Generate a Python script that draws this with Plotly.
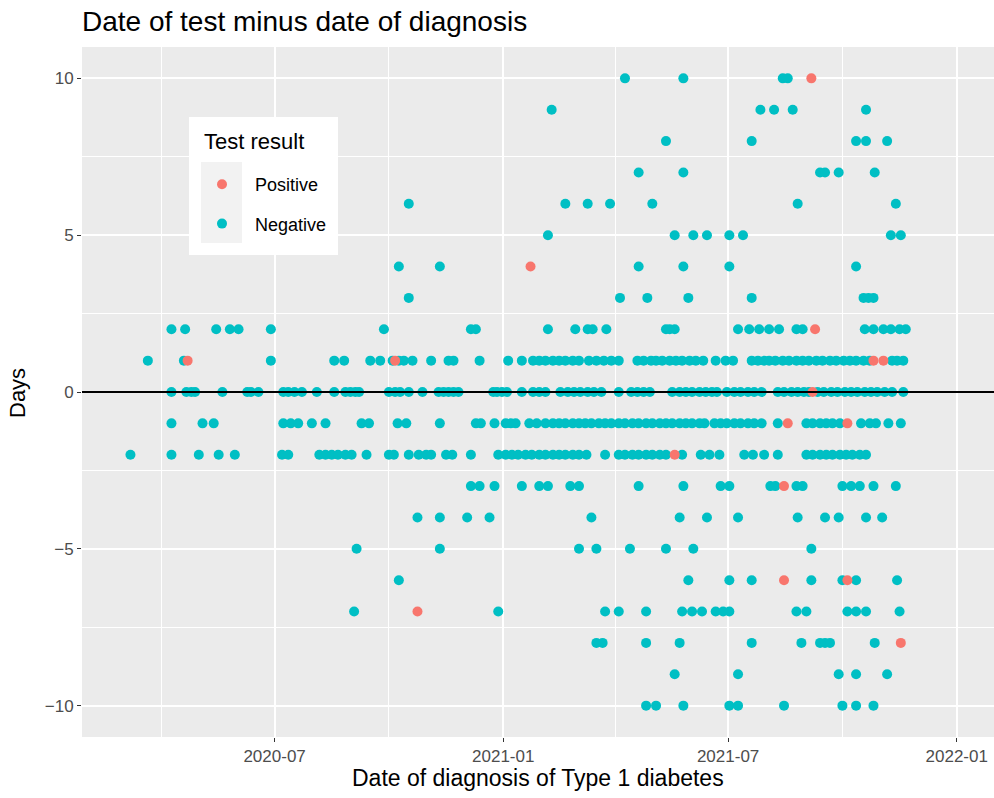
import plotly.graph_objects as go

# ---- data ----
row_days = [10, 9, 8, 7, 6, 5, 4, 3, 2, 1, 0, -1, -2, -3, -4, -5, -6, -7, -8, -9, -10]

neg_dates_by_row = [
    # 10
    ["2021-04-09", "2021-05-26", "2021-08-14", "2021-08-18"],
    # 9
    ["2021-02-09", "2021-07-27", "2021-08-07", "2021-08-22", "2021-10-20"],
    # 8
    ["2021-05-12", "2021-07-20", "2021-10-12", "2021-10-20", "2021-11-06"],
    # 7
    ["2021-04-20", "2021-05-26", "2021-09-13", "2021-09-17", "2021-09-28", "2021-10-27"],
    # 6
    ["2020-10-17", "2021-02-20", "2021-03-10", "2021-03-28", "2021-05-01", "2021-08-26", "2021-11-13"],
    # 5
    ["2021-02-06", "2021-05-19", "2021-06-03", "2021-06-14", "2021-07-02", "2021-07-13", "2021-11-09", "2021-11-17"],
    # 4
    ["2020-10-09", "2020-11-11", "2021-04-20", "2021-05-26", "2021-07-02", "2021-10-12"],
    # 3
    ["2020-10-17", "2021-04-05", "2021-04-27", "2021-05-30", "2021-07-20", "2021-10-18", "2021-10-22", "2021-10-26"],
    # 2
    ["2020-04-09", "2020-04-20", "2020-05-15", "2020-05-26", "2020-06-02", "2020-06-28", "2020-09-27",
     "2020-12-06", "2020-12-10", "2021-02-06", "2021-02-28", "2021-03-10", "2021-03-14", "2021-03-25",
     "2021-05-12", "2021-05-15", "2021-05-19", "2021-07-09", "2021-07-18", "2021-07-26", "2021-08-03",
     "2021-08-11", "2021-08-25", "2021-08-30", "2021-10-19", "2021-10-26", "2021-11-03", "2021-11-09",
     "2021-11-16", "2021-11-21"],
    # 1
    ["2020-03-21", "2020-04-19", "2020-06-28", "2020-08-18", "2020-08-26", "2020-09-16", "2020-09-24",
     "2020-10-04", "2020-10-09", "2020-10-13", "2020-10-20", "2020-11-04", "2020-11-18", "2020-11-22",
     "2020-12-13", "2021-01-05", "2021-01-16", "2021-01-25", "2021-01-30", "2021-02-04", "2021-02-10",
     "2021-02-15", "2021-02-20", "2021-02-26", "2021-03-03", "2021-03-11", "2021-03-17", "2021-03-23",
     "2021-03-29", "2021-04-04", "2021-04-19", "2021-04-24", "2021-04-30", "2021-05-04", "2021-05-09",
     "2021-05-15", "2021-05-20", "2021-05-25", "2021-05-31", "2021-06-05", "2021-06-11", "2021-06-21",
     "2021-06-29", "2021-07-05", "2021-07-20", "2021-07-25", "2021-07-30", "2021-08-03", "2021-08-08",
     "2021-08-14", "2021-08-19", "2021-08-25", "2021-08-30", "2021-09-04", "2021-09-10", "2021-09-15",
     "2021-09-21", "2021-09-26", "2021-10-02", "2021-10-07", "2021-10-12", "2021-10-18", "2021-10-23",
     "2021-11-10", "2021-11-14", "2021-11-19"],
    # 0
    ["2020-04-09", "2020-04-21", "2020-04-25", "2020-04-28", "2020-05-20", "2020-06-09", "2020-06-12",
     "2020-06-18", "2020-07-08", "2020-07-12", "2020-07-17", "2020-07-23", "2020-08-04", "2020-08-18",
     "2020-08-27", "2020-08-31", "2020-09-04", "2020-09-07", "2020-10-01", "2020-10-06", "2020-10-10",
     "2020-10-17", "2020-10-28", "2020-11-10", "2020-11-14", "2020-11-18", "2020-11-22", "2020-11-26",
     "2020-12-24", "2020-12-27", "2020-12-31", "2021-01-04", "2021-01-16", "2021-01-25", "2021-01-30",
     "2021-02-04", "2021-02-16", "2021-02-22", "2021-02-27", "2021-03-04", "2021-03-10", "2021-03-15",
     "2021-03-21", "2021-04-04", "2021-04-14", "2021-04-19", "2021-04-24", "2021-04-29", "2021-05-17",
     "2021-05-23", "2021-05-28", "2021-06-02", "2021-06-08", "2021-06-13", "2021-06-18", "2021-06-22",
     "2021-06-30", "2021-07-06", "2021-07-11", "2021-07-17", "2021-07-22", "2021-07-28", "2021-08-10",
     "2021-08-15", "2021-08-21", "2021-08-26", "2021-08-31", "2021-09-04", "2021-09-11", "2021-09-16",
     "2021-09-22", "2021-09-27", "2021-10-03", "2021-10-08", "2021-10-13", "2021-10-19", "2021-10-24",
     "2021-10-29", "2021-11-04", "2021-11-10", "2021-11-19"],
    # -1
    ["2020-04-09", "2020-05-04", "2020-05-13", "2020-07-08", "2020-07-14", "2020-07-20", "2020-07-31",
     "2020-08-11", "2020-09-09", "2020-09-15", "2020-10-08", "2020-10-15", "2020-11-11", "2020-12-10",
     "2020-12-14", "2020-12-25", "2021-01-03", "2021-01-07", "2021-01-11", "2021-01-22", "2021-01-28",
     "2021-02-04", "2021-02-10", "2021-02-15", "2021-02-20", "2021-02-26", "2021-03-03", "2021-03-08",
     "2021-03-13", "2021-03-19", "2021-03-24", "2021-03-29", "2021-04-04", "2021-04-09", "2021-04-15",
     "2021-04-20", "2021-04-26", "2021-05-01", "2021-05-07", "2021-05-12", "2021-05-17", "2021-05-23",
     "2021-05-28", "2021-06-02", "2021-06-08", "2021-06-12", "2021-06-20", "2021-06-25", "2021-06-30",
     "2021-07-06", "2021-07-11", "2021-07-17", "2021-07-22", "2021-07-28", "2021-08-10", "2021-09-02",
     "2021-09-07", "2021-09-13", "2021-09-18", "2021-09-23", "2021-09-29", "2021-10-16", "2021-10-23",
     "2021-10-28", "2021-11-07", "2021-11-17"],
    # -2
    ["2020-03-07", "2020-04-09", "2020-05-01", "2020-05-17", "2020-05-30", "2020-07-07", "2020-07-12",
     "2020-08-06", "2020-08-11", "2020-08-16", "2020-08-21", "2020-08-27", "2020-09-01", "2020-09-13",
     "2020-10-01", "2020-10-05", "2020-10-17", "2020-10-25", "2020-10-31", "2020-11-04", "2020-11-16",
     "2020-11-21", "2020-12-06", "2020-12-28", "2021-01-03", "2021-01-08", "2021-01-13", "2021-01-19",
     "2021-01-24", "2021-01-30", "2021-02-04", "2021-02-10", "2021-02-15", "2021-02-20", "2021-02-26",
     "2021-03-03", "2021-03-09", "2021-03-24", "2021-04-04", "2021-04-09", "2021-04-15", "2021-04-20",
     "2021-04-26", "2021-05-01", "2021-05-07", "2021-05-12", "2021-05-25", "2021-06-09", "2021-06-16",
     "2021-06-24", "2021-07-14", "2021-07-21", "2021-07-30", "2021-08-10", "2021-09-02", "2021-09-07",
     "2021-09-13", "2021-09-18", "2021-09-23", "2021-09-29", "2021-10-04", "2021-10-09", "2021-10-15",
     "2021-10-20"],
    # -3
    ["2020-12-06", "2020-12-13", "2020-12-25", "2021-01-16", "2021-01-30", "2021-02-06", "2021-02-24",
     "2021-03-03", "2021-04-20", "2021-05-26", "2021-06-25", "2021-07-02", "2021-08-04", "2021-08-08",
     "2021-08-25", "2021-08-30", "2021-10-01", "2021-10-08", "2021-10-15", "2021-10-26", "2021-11-13"],
    # -4
    ["2020-10-24", "2020-11-11", "2020-12-03", "2020-12-21", "2021-03-13", "2021-05-23", "2021-06-14",
     "2021-07-09", "2021-08-26", "2021-09-17", "2021-09-28", "2021-10-20", "2021-11-02"],
    # -5
    ["2020-09-05", "2020-11-11", "2021-03-03", "2021-03-17", "2021-04-13", "2021-05-12", "2021-06-03",
     "2021-09-06"],
    # -6
    ["2020-10-09", "2021-05-30", "2021-07-02", "2021-07-20", "2021-09-06", "2021-10-01", "2021-10-12",
     "2021-11-14"],
    # -7
    ["2020-09-03", "2020-12-28", "2021-03-24", "2021-04-04", "2021-04-26", "2021-05-25", "2021-06-02",
     "2021-06-10", "2021-06-21", "2021-06-27", "2021-07-02", "2021-08-25", "2021-09-02", "2021-10-05",
     "2021-10-12", "2021-10-20", "2021-11-16"],
    # -8
    ["2021-03-17", "2021-03-22", "2021-04-26", "2021-05-23", "2021-07-20", "2021-08-29", "2021-09-13",
     "2021-09-17", "2021-09-21", "2021-10-27"],
    # -9
    ["2021-05-19", "2021-07-09", "2021-09-28", "2021-10-12", "2021-11-06"],
    # -10
    ["2021-04-26", "2021-05-04", "2021-05-26", "2021-07-02", "2021-07-09", "2021-08-15", "2021-10-01",
     "2021-10-12", "2021-10-26"],
]

pos_dates = ["2021-09-06", "2021-01-23", "2021-09-09", "2020-04-22", "2020-10-06", "2021-10-26",
             "2021-11-03", "2021-09-07", "2021-08-18", "2021-10-05", "2021-05-19", "2021-08-15",
             "2021-08-15", "2021-10-05", "2020-10-24", "2021-11-17"]
pos_days = [10, 4, 2, 1, 1, 1, 1, 0, -1, -1, -2, -3, -6, -6, -7, -8]

neg_dates = [d for row in neg_dates_by_row for d in row]
neg_days = [v for v, row in zip(row_days, neg_dates_by_row) for _ in row]

POS_COLOR = "#F8766D"
NEG_COLOR = "#00BFC4"
FONT = "Liberation Sans, Arial, Helvetica, sans-serif"

fig = go.Figure()
fig.add_trace(go.Scatter(
    x=neg_dates, y=neg_days, mode="markers", name="Negative",
    marker=dict(color=NEG_COLOR, size=10, line=dict(width=0)),
    legendrank=2, legendgroup="neg",
))
fig.add_trace(go.Scatter(
    x=pos_dates, y=pos_days, mode="markers", name="Positive",
    marker=dict(color=POS_COLOR, size=10, line=dict(width=0)),
    legendrank=1, legendgroup="pos",
))

W, H = 994, 798
L, R, T, B = 82, 0, 47, 61
pw, ph = W - L - R, H - T - B

def px_x(x):
    return (x - L) / pw

def px_y(y):
    return (H - B - y) / ph

shapes = [
    # zero reference line
    dict(type="line", xref="paper", yref="y", x0=0, x1=1, y0=0, y1=0,
         line=dict(color="black", width=1.8), layer="above"),
    # legend background box
    dict(type="rect", xref="paper", yref="paper",
         x0=px_x(189), x1=px_x(338), y0=px_y(255), y1=px_y(117),
         fillcolor="white", line=dict(width=0), layer="above"),
    # legend key background
    dict(type="rect", xref="paper", yref="paper",
         x0=px_x(201), x1=px_x(242), y0=px_y(243), y1=px_y(162),
         fillcolor="#F2F2F2", line=dict(width=0), layer="above"),
]

annotations = [
    dict(text="Test result", xref="paper", yref="paper", x=px_x(202), y=px_y(142),
         xanchor="left", yanchor="middle", showarrow=False, font=dict(size=22, color="black")),
    dict(text="Date of diagnosis of Type 1 diabetes", xref="paper", yref="paper",
         x=0.5, y=px_y(778), xanchor="center", yanchor="middle", showarrow=False,
         font=dict(size=23, color="black")),
    dict(text="Days", xref="paper", yref="paper", x=px_x(18), y=px_y(393),
         xanchor="center", yanchor="middle", textangle=-90, showarrow=False,
         font=dict(size=22, color="black")),
]

fig.update_layout(
    width=W, height=H,
    margin=dict(l=L, r=R, t=T, b=B),
    paper_bgcolor="white",
    plot_bgcolor="#EBEBEB",
    font=dict(family=FONT, color="black"),
    title=dict(text="Date of test minus date of diagnosis", x=82 / W, xanchor="left",
               y=1 - 21 / H, yanchor="middle", font=dict(size=28, color="black")),
    showlegend=True,
    legend=dict(
        x=px_x(189), y=px_y(166), xanchor="left", yanchor="top",
        bgcolor="rgba(0,0,0,0)", borderwidth=0,
        font=dict(size=18, color="black"),
        traceorder="grouped", tracegroupgap=13, itemwidth=56,
    ),
    shapes=shapes,
    annotations=annotations,
    xaxis=dict(
        type="date", automargin=False,
        range=["2020-01-28", "2022-01-31"],
        tick0="2020-07-01", dtick="M6", tickformat="%Y-%m",
        showgrid=True, gridcolor="white", gridwidth=1.6,
        minor=dict(dtick="M3", tick0="2020-07-01", showgrid=True, gridcolor="white", gridwidth=0.8),
        zeroline=False, showline=False,
        ticks="outside", ticklen=4, tickcolor="#333333", tickwidth=1,
        tickfont=dict(size=17, color="#4D4D4D"),
    ),
    yaxis=dict(
        automargin=False,
        range=[-11, 11],
        tickvals=[-10, -5, 0, 5, 10],
        showgrid=True, gridcolor="white", gridwidth=1.6,
        minor=dict(tickvals=[-7.5, -2.5, 2.5, 7.5], showgrid=True, gridcolor="white", gridwidth=0.8),
        zeroline=False, showline=False,
        ticks="outside", ticklen=4, tickcolor="#333333", tickwidth=1,
        tickfont=dict(size=17, color="#4D4D4D"),
    ),
)

fig.write_html("out.html", config={"displayModeBar": False},
               post_script="document.body.style.margin='0px';")
